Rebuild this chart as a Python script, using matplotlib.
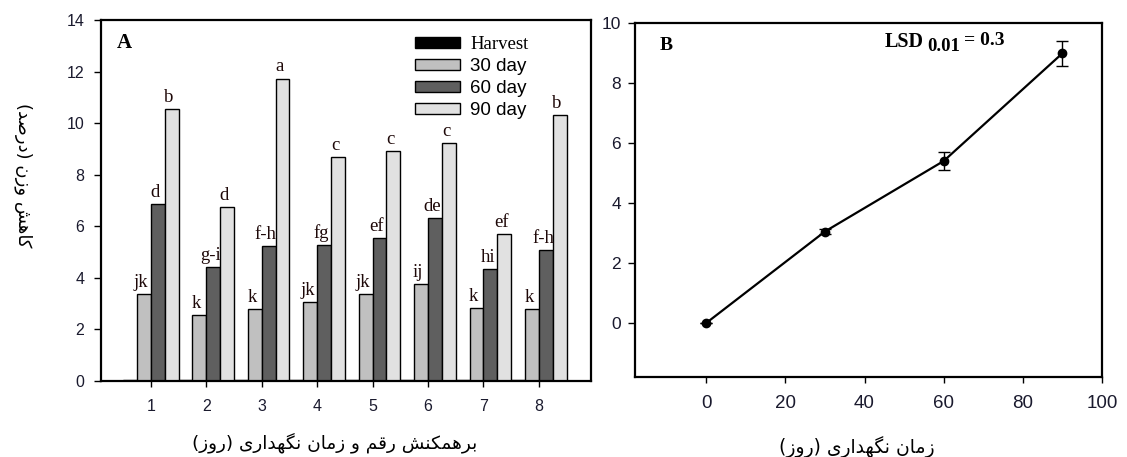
import numpy as np
import matplotlib
matplotlib.use('Agg')
import matplotlib.pyplot as plt

# --- data ---
groups = [1, 2, 3, 4, 5, 6, 7, 8]
series_names = ['Harvest', '30 day', '60 day', '90 day']
harvest = [0.05, 0.05, 0.05, 0.05, 0.05, 0.05, 0.05, 0.05]
day30 = [3.36, 2.56, 2.78, 3.05, 3.37, 3.77, 2.83, 2.78]
day60 = [6.85, 4.41, 5.23, 5.28, 5.55, 6.33, 4.33, 5.07]
day90 = [10.55, 6.74, 11.73, 8.69, 8.91, 9.24, 5.70, 10.31]
letters30 = ['jk', 'k', 'k', 'jk', 'jk', 'ij', 'k', 'k']
letters60 = ['d', 'g-i', 'f-h', 'fg', 'ef', 'de', 'hi', 'f-h']
letters90 = ['b', 'd', 'a', 'c', 'c', 'c', 'ef', 'b']

days = [0, 30, 60, 90]
loss = [0.0, 3.05, 5.40, 8.99]
loss_err = [0.0, 0.08, 0.29, 0.42]

ylabel_fa = 'کاهش وزن (درصد)'
xlabel_a_fa = 'برهمکنش رقم و زمان نگهداری (روز)'
xlabel_b_fa = 'زمان نگهداری (روز)'

# --- simple persian shaping (no reshaper lib available) ---
FORMS = {
    'ا': ('\uFE8D', '\uFE8E', None, None),
    'ب': ('\uFE8F', '\uFE90', '\uFE91', '\uFE92'),
    'د': ('\uFEA9', '\uFEAA', None, None),
    'ر': ('\uFEAD', '\uFEAE', None, None),
    'ز': ('\uFEAF', '\uFEB0', None, None),
    'ش': ('\uFEB5', '\uFEB6', '\uFEB7', '\uFEB8'),
    'ص': ('\uFEB9', '\uFEBA', '\uFEBB', '\uFEBC'),
    'ق': ('\uFED5', '\uFED6', '\uFED7', '\uFED8'),
    'م': ('\uFEE1', '\uFEE2', '\uFEE3', '\uFEE4'),
    'ن': ('\uFEE5', '\uFEE6', '\uFEE7', '\uFEE8'),
    'ه': ('\uFEE9', '\uFEEA', '\uFEEB', '\uFEEC'),
    'و': ('\uFEED', '\uFEEE', None, None),
    'ک': ('\uFB8E', '\uFB8F', '\uFB90', '\uFB91'),
    'گ': ('\uFB92', '\uFB93', '\uFB94', '\uFB95'),
    'ی': ('\uFBFC', '\uFBFD', '\uFBFE', '\uFBFF'),
}


def dual(c):
    return c in FORMS and FORMS[c][2] is not None


def shape(s):
    out = []
    for i, c in enumerate(s):
        if c not in FORMS:
            out.append(c)
            continue
        prev = s[i - 1] if i > 0 else ''
        nxt = s[i + 1] if i + 1 < len(s) else ''
        p = dual(prev)
        n = dual(c) and nxt in FORMS
        iso, fin, ini, med = FORMS[c]
        if p and n:
            out.append(med)
        elif p:
            out.append(fin)
        elif n:
            out.append(ini)
        else:
            out.append(iso)
    vis = ''.join(out)[::-1]
    return vis.translate(str.maketrans('()', ')('))


plt.rcParams['font.family'] = ['Liberation Sans', 'DejaVu Sans']
plt.rcParams['axes.linewidth'] = 1.6
plt.rcParams['xtick.major.width'] = 1.0
plt.rcParams['ytick.major.width'] = 1.0
plt.rcParams['xtick.major.size'] = 4
plt.rcParams['ytick.major.size'] = 5

W, H = 1127, 457
fig = plt.figure(figsize=(W / 100, H / 100), dpi=100)

# ---------------- panel A ----------------
ax1 = fig.add_axes([101 / W, 1 - 381 / H, 490 / W, 361 / H])
x = np.array(groups, dtype=float)
bw = 0.25
colors = ['black', '#c0c0c0', '#5f5f5f', '#e1e1e1']
vals = [harvest, day30, day60, day90]
offs = [-1.5 * bw, -0.5 * bw, 0.5 * bw, 1.5 * bw]
for v, c, o, name in zip(vals, colors, offs, series_names):
    ax1.bar(x + o, v, bw, color=c, edgecolor='black', linewidth=1.0, label=name)

for lab, v, o in [(letters30, day30, offs[1]), (letters60, day60, offs[2]), (letters90, day90, offs[3])]:
    for xi, yi, t in zip(x, v, lab):
        ax1.text(xi + o - 0.05, yi + 0.12, t, ha='center', va='bottom',
                 fontsize=13.5, family='Liberation Serif', color='#1e0808')

ax1.set_xlim(0.1, 8.94)
ax1.set_ylim(0, 14)
ax1.set_yticks(range(0, 15, 2))
ax1.set_xticks(groups)
ax1.tick_params(labelsize=11.5, colors='black', labelcolor='#1a1a2e', pad=7)
ax1.tick_params(axis='x', pad=9)
fig.text(117 / W, 1 - 43 / H, 'A', fontsize=15, fontweight='bold',
         family='Liberation Serif', va='center')

leg = ax1.legend(loc='upper left', bbox_to_anchor=(415 / W, 1 - 36 / H),
                 bbox_transform=fig.transFigure, frameon=False,
                 fontsize=13.5, handlelength=2.4, handleheight=0.55, labelspacing=0.27,
                 handletextpad=0.55, borderpad=0, borderaxespad=0)
leg.get_texts()[0].set_family('Liberation Serif')

fig.text(335 / W, 1 - 443 / H, shape(xlabel_a_fa), ha='center', va='center',
         fontsize=13.3, family='DejaVu Sans')
fig.text(23 / W, 1 - 175 / H, shape(ylabel_fa), ha='center', va='center',
         rotation=270, fontsize=13, family='DejaVu Sans')

# ---------------- panel B ----------------
ax2 = fig.add_axes([635 / W, 1 - 377 / H, 467 / W, 354 / H])
ax2.errorbar(days, loss, yerr=loss_err, color='black', lw=1.6, marker='o', ms=6,
             capsize=4, elinewidth=1.0, capthick=1.0)
ax2.set_xlim(-18, 100)
ax2.set_ylim(-1.8, 10)
ax2.set_xticks(range(0, 101, 20))
ax2.set_yticks(range(0, 11, 2))
ax2.tick_params(axis='y', labelsize=12.5, labelcolor='#1a1a2e', pad=5)
ax2.tick_params(axis='x', labelsize=13.5, labelcolor='#1a1a2e', pad=9)
fig.text(660 / W, 1 - 45 / H, 'B', fontsize=14, fontweight='bold',
         family='Liberation Serif', va='center')

fig.text(885 / W, 1 - 47 / H, 'LSD', fontsize=14.5, fontweight='bold',
         family='Liberation Serif', va='baseline')
fig.text(927 / W, 1 - 51 / H, '0.01', fontsize=13.5, fontweight='bold',
         family='Liberation Serif', va='baseline')
fig.text(964 / W, 1 - 45 / H, '= 0.3', fontsize=14, fontweight='bold',
         family='Liberation Serif', va='baseline')

fig.text(857 / W, 1 - 447 / H, shape(xlabel_b_fa), ha='center', va='center',
         fontsize=13.5, family='DejaVu Sans')

fig.savefig('out.png', dpi=100)
